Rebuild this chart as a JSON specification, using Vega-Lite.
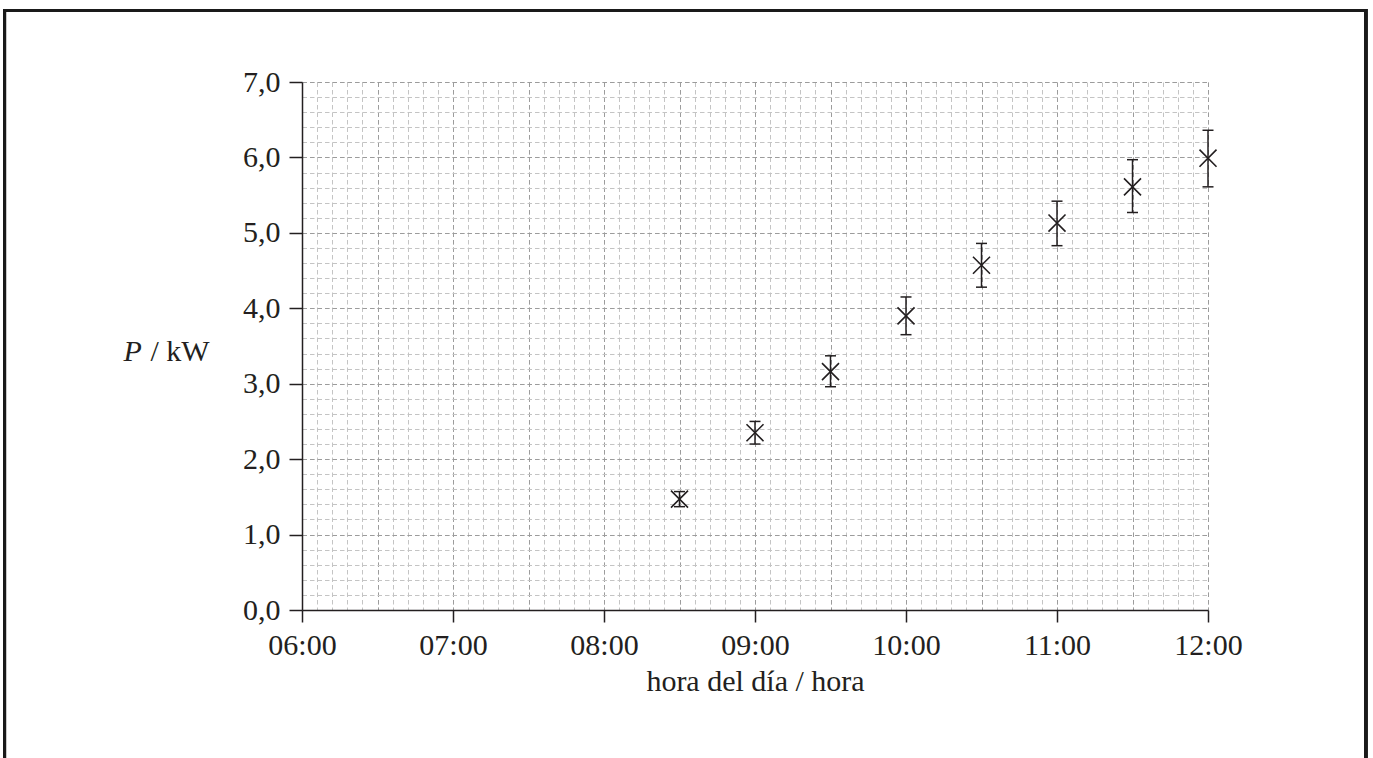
{
  "$schema": "https://vega.github.io/schema/vega-lite/v6.json",
  "width": 906,
  "height": 528,
  "autosize": {"type": "none"},
  "padding": {"left": 302, "top": 82, "right": 165, "bottom": 148},
  "background": "white",
  "config": {
    "view": {"stroke": null},
    "font": "Liberation Serif",
    "axis": {"labelFont": "Liberation Serif", "titleFont": "Liberation Serif", "labelFlush": false, "labelOverlap": false, "labelBound": false}
  },
  "data": {
    "values": [
      {"hour": 8.5, "p": 1.47, "lo": 1.37, "hi": 1.57},
      {"hour": 9.0, "p": 2.35, "lo": 2.20, "hi": 2.50},
      {"hour": 9.5, "p": 3.16, "lo": 2.96, "hi": 3.37},
      {"hour": 10.0, "p": 3.90, "lo": 3.65, "hi": 4.15},
      {"hour": 10.5, "p": 4.57, "lo": 4.28, "hi": 4.86},
      {"hour": 11.0, "p": 5.13, "lo": 4.83, "hi": 5.42},
      {"hour": 11.5, "p": 5.61, "lo": 5.27, "hi": 5.97},
      {"hour": 12.0, "p": 5.99, "lo": 5.61, "hi": 6.36}
    ]
  },
  "resolve": {"axis": {"x": "independent", "y": "independent"}},
  "layer": [
    {
      "mark": {"type": "point", "opacity": 0},
      "encoding": {
        "x": {"field": "hour", "type": "quantitative", "scale": {"domain": [6, 12], "nice": false, "zero": false},
          "axis": {"orient": "bottom", "values": [6,6.1,6.2,6.3,6.4,6.5,6.6,6.7,6.8,6.9,7,7.1,7.2,7.3,7.4,7.5,7.6,7.7,7.8,7.9,8,8.1,8.2,8.3,8.4,8.5,8.6,8.7,8.8,8.9,9,9.1,9.2,9.3,9.4,9.5,9.6,9.7,9.8,9.9,10,10.1,10.2,10.3,10.4,10.5,10.6,10.7,10.8,10.9,11,11.1,11.2,11.3,11.4,11.5,11.6,11.7,11.8,11.9,12],
            "grid": true, "gridDash": [4.5, 3], "gridColor": "#c4c4c4", "gridWidth": 1, "labels": false, "ticks": false, "domain": false, "title": null, "zindex": 0}},
        "y": {"field": "p", "type": "quantitative", "scale": {"domain": [0, 7], "nice": false},
          "axis": {"orient": "left", "values": [0,0.2,0.4,0.6,0.8,1,1.2,1.4,1.6,1.8,2,2.2,2.4,2.6,2.8,3,3.2,3.4,3.6,3.8,4,4.2,4.4,4.6,4.8,5,5.2,5.4,5.6,5.8,6,6.2,6.4,6.6,6.8,7],
            "grid": true, "gridDash": [4.5, 3], "gridColor": "#c4c4c4", "gridWidth": 1, "labels": false, "ticks": false, "domain": false, "title": null, "zindex": 0}}
      }
    },
    {
      "mark": {"type": "point", "opacity": 0},
      "encoding": {
        "x": {"field": "hour", "type": "quantitative",
          "axis": {"orient": "bottom", "values": [6,6.5,7,7.5,8,8.5,9,9.5,10,10.5,11,11.5,12], "grid": true, "gridDash": [4.5, 3], "gridColor": "#9c9c9c", "gridWidth": 1, "labels": false, "ticks": false, "domain": false, "title": null, "zindex": 0}},
        "y": {"field": "p", "type": "quantitative",
          "axis": {"orient": "left", "values": [0,1,2,3,4,5,6,7], "grid": true, "gridDash": [4.5, 3], "gridColor": "#9c9c9c", "gridWidth": 1, "labels": false, "ticks": false, "domain": false, "title": "/ kW", "titleFontSize": 30, "titleFontWeight": "normal", "titleColor": "#231f20", "titleAngle": 0, "titleAlign": "left", "titleBaseline": "alphabetic", "titleX": -152, "titleY": 278, "zindex": 0}}
      }
    },
    {
      "mark": {"type": "rect", "filled": false, "stroke": "#1a1a1a", "strokeWidth": 2.7, "fill": null},
      "encoding": {
        "x": {"datum": 4.031, "type": "quantitative", "axis": null},
        "x2": {"datum": 13.046},
        "y": {"datum": 7.951, "type": "quantitative", "axis": null},
        "y2": {"datum": -2.2}
      }
    },
    {
      "mark": {"type": "rule", "color": "#231f20", "strokeWidth": 1.5},
      "encoding": {
        "x": {"field": "hour", "type": "quantitative",
          "axis": {"orient": "bottom", "values": [6,7,8,9,10,11,12], "grid": false, "labelExpr": "(datum.value < 10 ? '0' : '') + datum.value + ':00'", "labelFontSize": 30, "labelColor": "#231f20", "labelPadding": 8, "tickSize": 12, "tickColor": "#231f20", "tickWidth": 1.5, "domainColor": "#231f20", "domainWidth": 1.5, "title": "hora del día / hora", "titleFontSize": 30, "titleFontWeight": "normal", "titleColor": "#231f20", "titleBaseline": "alphabetic", "titleAnchor": "middle", "titleY": 80, "zindex": 1}},
        "y": {"field": "lo", "type": "quantitative",
          "axis": {"orient": "left", "values": [0,1,2,3,4,5,6,7], "grid": false, "labelExpr": "replace(format(datum.value, '.1f'), '.', ',')", "labelFontSize": 30, "labelColor": "#231f20", "labelPadding": 9, "labelBaseline": "middle", "tickSize": 13, "tickColor": "#231f20", "tickWidth": 1.5, "domainColor": "#231f20", "domainWidth": 1.5, "title": "P", "titleFontSize": 30, "titleFontWeight": "normal", "titleFontStyle": "italic", "titleColor": "#231f20", "titleAngle": 0, "titleAlign": "left", "titleBaseline": "alphabetic", "titleX": -179, "titleY": 278, "zindex": 1}},
        "y2": {"field": "hi"}
      }
    },
    {
      "mark": {"type": "tick", "orient": "horizontal", "size": 11, "thickness": 1.5, "color": "#231f20", "opacity": 1},
      "encoding": {
        "x": {"field": "hour", "type": "quantitative", "axis": null},
        "y": {"field": "lo", "type": "quantitative", "axis": null}
      }
    },
    {
      "mark": {"type": "tick", "orient": "horizontal", "size": 11, "thickness": 1.5, "color": "#231f20", "opacity": 1},
      "encoding": {
        "x": {"field": "hour", "type": "quantitative", "axis": null},
        "y": {"field": "hi", "type": "quantitative", "axis": null}
      }
    },
    {
      "mark": {"type": "point", "shape": "M-1,-1L1,1M-1,1L1,-1", "size": 290, "filled": false, "stroke": "#231f20", "strokeWidth": 1.6, "opacity": 1},
      "encoding": {
        "x": {"field": "hour", "type": "quantitative", "axis": null},
        "y": {"field": "p", "type": "quantitative", "axis": null}
      }
    }
  ]
}
